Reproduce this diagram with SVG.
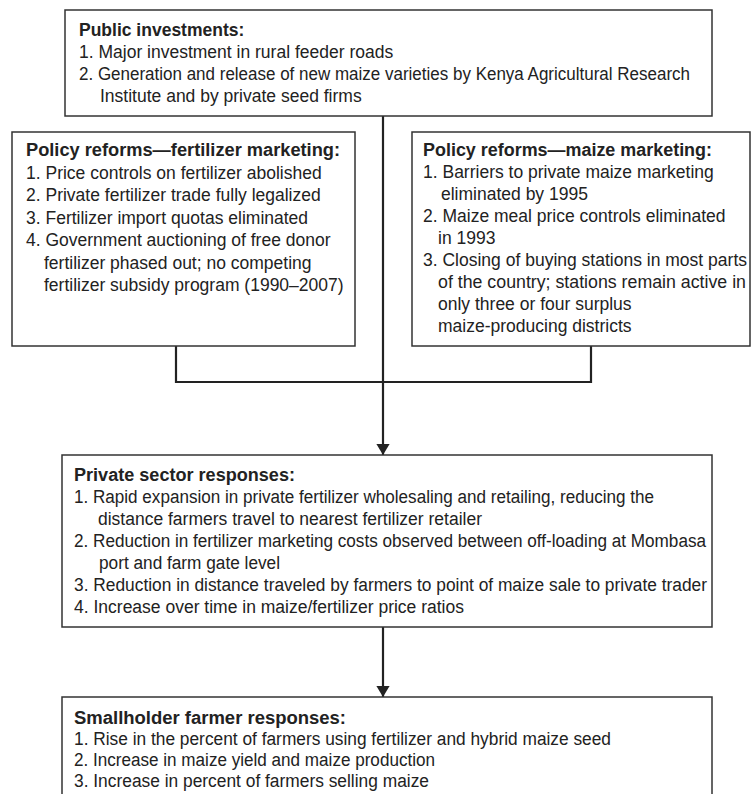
<svg xmlns="http://www.w3.org/2000/svg" width="751" height="794" viewBox="0 0 751 794">
<defs>
<style>
.box{fill:#fff;stroke:#333;stroke-width:1.5}
.t{font-family:"Liberation Sans",Arial,sans-serif;font-size:17.5px;fill:#222}
.n{font-size:18px}
.b{font-weight:bold}
.conn{fill:none;stroke:#222;stroke-width:2.2}
</style>
<marker id="arr" viewBox="0 0 10 12" refX="10" refY="6" markerWidth="5.5" markerHeight="6" orient="auto" markerUnits="strokeWidth">
<path d="M0,0 L10,6 L0,12 Z" fill="#222"/>
</marker>
</defs>
<rect width="751" height="794" fill="#fff"/>
<g id="connectors">
<path class="conn" d="M383,116 V455" marker-end="url(#arr)"/>
<path class="conn" d="M176,346 V382 H591 V346"/>
<path class="conn" d="M383,627 V697" marker-end="url(#arr)"/>
</g>
<g id="public">
<rect class="box" x="65" y="10" width="647" height="106"/>
<text class="t b" x="79" y="36">Public investments:</text>
<text class="t" x="79" y="58">1. Major investment in rural feeder roads</text>
<text class="t" x="79" y="80" textLength="611" lengthAdjust="spacingAndGlyphs">2. Generation and release of new maize varieties by Kenya Agricultural Research</text>
<text class="t" x="100" y="102">Institute and by private seed firms</text>
</g>
<g id="fertilizer">
<rect class="box" x="12" y="132" width="343" height="214"/>
<text class="t b" x="26" y="156" textLength="314" lengthAdjust="spacingAndGlyphs">Policy reforms—fertilizer marketing:</text>
<text class="t" x="26" y="178.5">1. Price controls on fertilizer abolished</text>
<text class="t" x="26" y="201">2. Private fertilizer trade fully legalized</text>
<text class="t" x="26" y="223.5">3. Fertilizer import quotas eliminated</text>
<text class="t" x="26" y="246">4. Government auctioning of free donor</text>
<text class="t" x="44" y="268.5">fertilizer phased out; no competing</text>
<text class="t" x="44" y="291">fertilizer subsidy program (1990–2007)</text>
</g>
<g id="maize">
<rect class="box" x="412" y="132" width="338" height="214"/>
<text class="t b" x="423" y="156" textLength="289" lengthAdjust="spacingAndGlyphs">Policy reforms—maize marketing:</text>
<text class="t" x="423" y="178">1. Barriers to private maize marketing</text>
<text class="t" x="441" y="200">eliminated by 1995</text>
<text class="t" x="423" y="222">2. Maize meal price controls eliminated</text>
<text class="t" x="438" y="244">in 1993</text>
<text class="t" x="423" y="266" textLength="324" lengthAdjust="spacingAndGlyphs">3. Closing of buying stations in most parts</text>
<text class="t" x="438" y="288" textLength="308" lengthAdjust="spacingAndGlyphs">of the country; stations remain active in</text>
<text class="t" x="438" y="310">only three or four surplus</text>
<text class="t" x="438" y="332">maize-producing districts</text>
</g>
<g id="private">
<rect class="box" x="62" y="455" width="650" height="172"/>
<text class="t n b" x="74" y="481" textLength="221" lengthAdjust="spacingAndGlyphs">Private sector responses:</text>
<text class="t n" x="74" y="503" textLength="580" lengthAdjust="spacingAndGlyphs">1. Rapid expansion in private fertilizer wholesaling and retailing, reducing the</text>
<text class="t n" x="98" y="525" textLength="384" lengthAdjust="spacingAndGlyphs">distance farmers travel to nearest fertilizer retailer</text>
<text class="t n" x="74" y="547" textLength="632" lengthAdjust="spacingAndGlyphs">2. Reduction in fertilizer marketing costs observed between off-loading at Mombasa</text>
<text class="t n" x="99" y="569" textLength="181" lengthAdjust="spacingAndGlyphs">port and farm gate level</text>
<text class="t n" x="74" y="591" textLength="633" lengthAdjust="spacingAndGlyphs">3. Reduction in distance traveled by farmers to point of maize sale to private trader</text>
<text class="t n" x="74" y="613" textLength="390" lengthAdjust="spacingAndGlyphs">4. Increase over time in maize/fertilizer price ratios</text>
</g>
<g id="smallholder">
<rect class="box" x="62" y="697" width="650" height="120"/>
<text class="t n b" x="74" y="724" textLength="272" lengthAdjust="spacingAndGlyphs">Smallholder farmer responses:</text>
<text class="t n" x="74" y="745" textLength="537" lengthAdjust="spacingAndGlyphs">1. Rise in the percent of farmers using fertilizer and hybrid maize seed</text>
<text class="t n" x="74" y="766" textLength="361" lengthAdjust="spacingAndGlyphs">2. Increase in maize yield and maize production</text>
<text class="t n" x="74" y="787" textLength="355" lengthAdjust="spacingAndGlyphs">3. Increase in percent of farmers selling maize</text>
</g>
</svg>
